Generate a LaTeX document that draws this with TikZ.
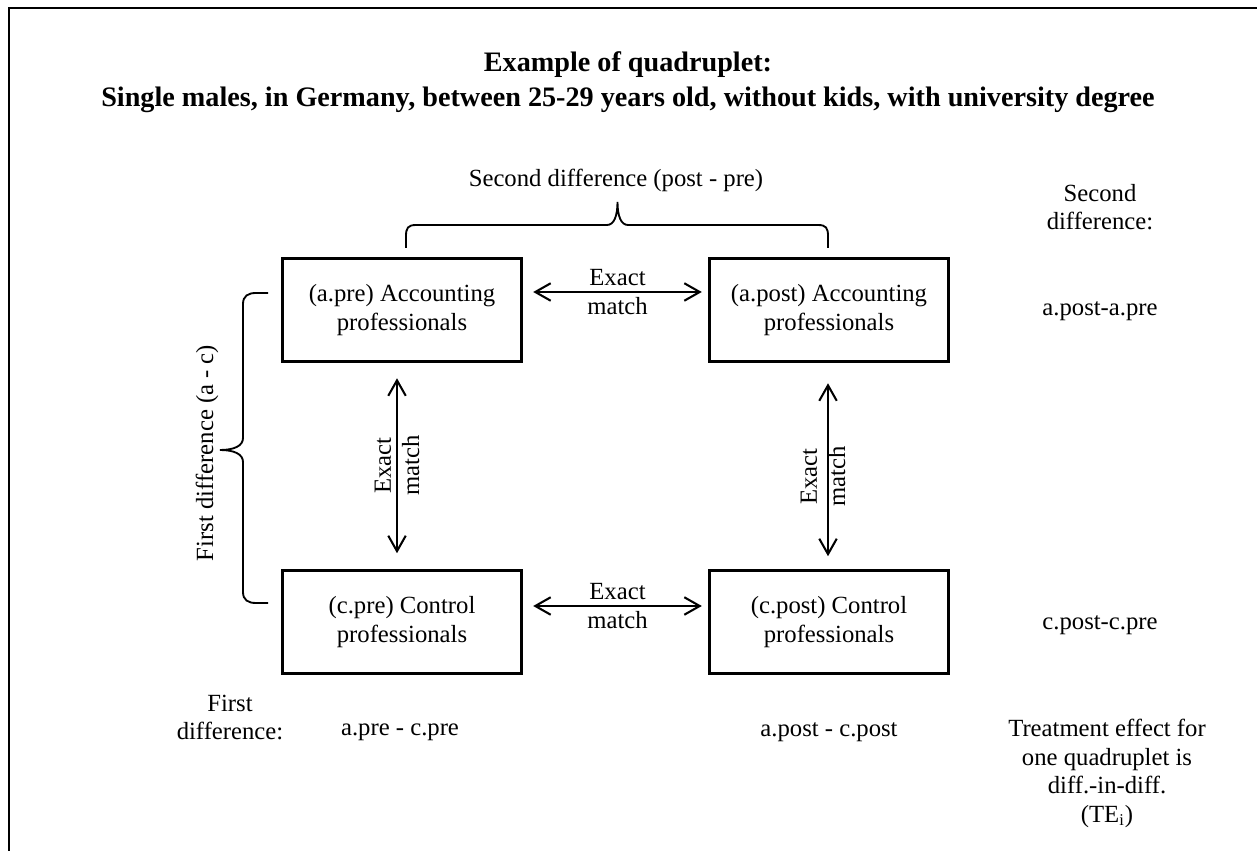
\documentclass[tikz,border=0pt]{standalone}
\usepackage{fontspec}
\setmainfont{Liberation Serif}
\usetikzlibrary{arrows.meta}

\begin{document}
\begin{tikzpicture}[x=0.486pt,y=-0.486pt,>={Straight Barb[length=7.5pt,width=8.5pt]},
                    every node/.style={font=\fontsize{12}{13.8}\selectfont,align=center,inner sep=0pt},
                    box/.style={draw,line width=1.3pt,minimum width=116pt,minimum height=50pt},
                    match/.style={<->,line width=1pt},
                    brace/.style={line width=0.9pt},
                    title/.style={font=\fontsize{13.7}{17}\selectfont\bfseries}]

 \useasboundingbox (0,0) rectangle (1257,851);
 \draw[line width=1.4pt] (9,870) -- (9,8) -- (1270,8);

 \node[title](title) at (628,82.5) {Example of quadruplet:\\Single males, in Germany, between 25-29 years old, without kids, with university degree};
 \node(second) at (616,180) {Second difference (post - pre)};

  \node[box](apre)  at (402,310)  {(a.pre) Accounting\\professionals};
  \node[box](apost) at (829,310)  {(a.post) Accounting\\professionals};
  \node[box](cpre)  at (402,622)  {(c.pre) Control\\professionals};
  \node[box](cpost) at (829,622)  {(c.post) Control\\professionals};

  \path ([shift={(10.5,-18)}]apre.east) edge [match] node (mtop) {Exact\\match} ([shift={(-6.5,-18)}]apost.west)
        ([shift={(10.5,-16)}]cpre.east) edge [match] node (mbot) {Exact\\match} ([shift={(-6.5,-16)}]cpost.west)
        ([shift={(-5,15.5)}]apre.south) edge [match] node[rotate=90] (mleft) {Exact\\match} ([shift={(-5,-16)}]cpre.north)
        ([shift={(-1,20.5)}]apost.south) edge [match] node[rotate=90,xshift=-3.4pt,yshift=2.4pt] (mright) {Exact\\match} ([shift={(-1,-13)}]cpost.north);

 % braces
 \draw[brace] (406,248) -- (406,236) .. controls (406,228) and (408,225) .. (416,225) -- (607,225)
    .. controls (614,225) and (617.5,216) .. (617.5,202) .. controls (617.5,216) and (621,225) .. (628,225)
    -- (818,225) .. controls (826,225) and (828,228) .. (828,236) -- (828,248);
 \draw[brace] (268,293) -- (256,293) .. controls (248,293) and (243,296) .. (243,304) -- (243,438)
    .. controls (243,446) and (234,450) .. (220,450) .. controls (234,450) and (243,454) .. (243,462)
    -- (243,592) .. controls (243,600) and (248,603) .. (256,603) -- (268,603);
 \node[rotate=90](firstside) at (207,453) {First difference (a - c)};

 \node(seconddiff) at (1100,207)  {Second\\difference:};
 \node(adiff)      at (1100,311)  {a.post-a.pre};
 \node(cdiff)      at (1100,625)  {c.post-c.pre};
 \node(te)         at (1107,773.5) {Treatment effect for\\one quadruplet is\\diff.-in-diff.\\(TE\textsubscript{i})};

 \node(firstdiff)  at (230,717.5) {First\\difference:};
 \node(prediff)    at (400,732)   {a.pre - c.pre};
 \node(postdiff)   at (829,732)   {a.post - c.post};

\end{tikzpicture}
\end{document}
